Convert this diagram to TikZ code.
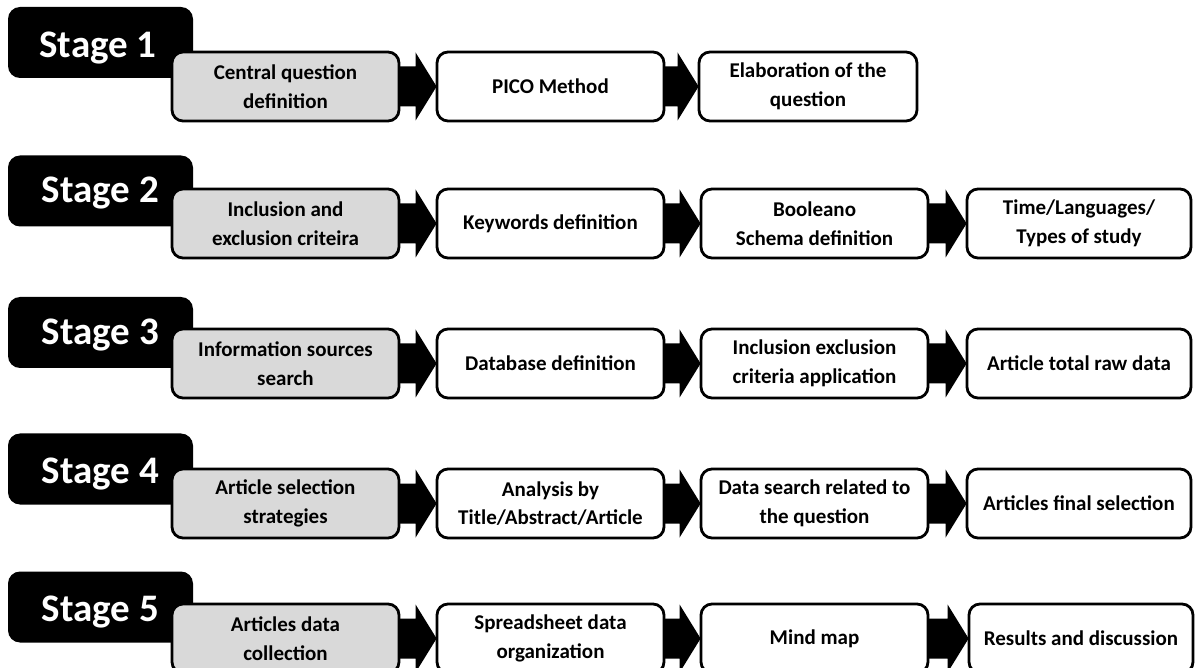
\documentclass[tikz,border=0pt]{standalone}
\usepackage{fontspec}
\setmainfont{Carlito}
\usetikzlibrary{calc}
\definecolor{boxgray}{RGB}{217,217,217}
\tikzset{
  stagebox/.style={fill=black, rounded corners=12pt, minimum width=185pt, minimum height=71pt, inner sep=0pt, outer sep=0pt},
  stagetext/.style={text=white, font=\fontsize{39}{44}\selectfont\bfseries, inner sep=0pt, anchor=base},
  graybox/.style={draw=black, line width=2.8pt, fill=boxgray, rounded corners=11pt, minimum width=227pt, minimum height=69pt, align=center, font=\fontsize{21}{28.5}\selectfont\bfseries, inner sep=0pt},
  whitebox/.style={graybox, fill=white},
  blockarrow/.style={fill=black}
}
\newcommand{\blockarr}[2]{%
  \fill[blockarrow] ($(#1.east)+(-2,20)$) -- ($(#2.west)+(-20,20)$) -- ($(#2.west)+(-20,34)$) -- ($(#2.west)+(1,0)$) -- ($(#2.west)+(-20,-34)$) -- ($(#2.west)+(-20,-20)$) -- ($(#1.east)+(-2,-20)$) -- cycle;}
\begin{document}
\begin{tikzpicture}[x=1pt, y=-1pt]
\useasboundingbox (0,0) rectangle (1195,668);

% Row 1
\node[stagebox] (s1) at (100.5,42.5) {};
\node[stagetext] (t1) at (98,58) {Stage 1};
\node[graybox] (g1) at (285.5,86.5) {Central question\\definition};
\node[whitebox] (a1) at (550.5,86.5) {PICO Method};
\node[whitebox, minimum width=218pt] (b1) at (808,86.5) {Elaboration of the\\question};
\blockarr{g1}{a1}
\blockarr{a1}{b1}

% Row 2
\node[stagebox] (s2) at (100.5,191) {};
\node[stagetext] (t2) at (100.5,203) {Stage 2};
\node[graybox] (g2) at (285.5,223.5) {Inclusion and\\exclusion criteira};
\node[whitebox] (a2) at (550.5,223.5) {Keywords definition};
\node[whitebox] (b2) at (814.5,223.5) {Booleano\\Schema definition};
\node[whitebox, minimum width=224pt] (c2) at (1079,223.5) {Time/Languages/\\Types of study};
\blockarr{g2}{a2}
\blockarr{a2}{b2}
\blockarr{b2}{c2}

% Row 3
\node[stagebox] (s3) at (100.5,332.5) {};
\node[stagetext] (t3) at (100.5,345) {Stage 3};
\node[graybox] (g3) at (285.5,363.5) {Information sources\\search};
\node[whitebox] (a3) at (550.5,363.5) {Database definition};
\node[whitebox] (b3) at (814.5,363.5) {Inclusion exclusion\\criteria application};
\node[whitebox, minimum width=224pt] (c3) at (1079,363.5) {Article total raw data};
\blockarr{g3}{a3}
\blockarr{a3}{b3}
\blockarr{b3}{c3}

% Row 4
\node[stagebox] (s4) at (100.5,469) {};
\node[stagetext] (t4) at (100.5,483) {Stage 4};
\node[graybox] (g4) at (285.5,503.5) {Article selection\\strategies};
\node[whitebox] (a4) at (550.5,503.5) {Analysis by\\Title/Abstract/Article};
\node[whitebox] (b4) at (814.5,503.5) {Data search related to\\the question};
\node[whitebox, minimum width=224pt] (c4) at (1079,503.5) {Articles final selection};
\blockarr{g4}{a4}
\blockarr{a4}{b4}
\blockarr{b4}{c4}

% Row 5
\node[stagebox] (s5) at (100.5,607) {};
\node[stagetext] (t5) at (100.5,621) {Stage 5};
\node[graybox] (g5) at (285.5,638.5) {Articles data\\collection};
\node[whitebox] (a5) at (550.5,638.5) {Spreadsheet data\\organization};
\node[whitebox] (b5) at (814.5,638.5) {Mind map};
\node[whitebox, minimum width=224pt] (c5) at (1081,638.5) {Results and discussion};
\blockarr{g5}{a5}
\blockarr{a5}{b5}
\blockarr{b5}{c5}
\end{tikzpicture}
\end{document}
